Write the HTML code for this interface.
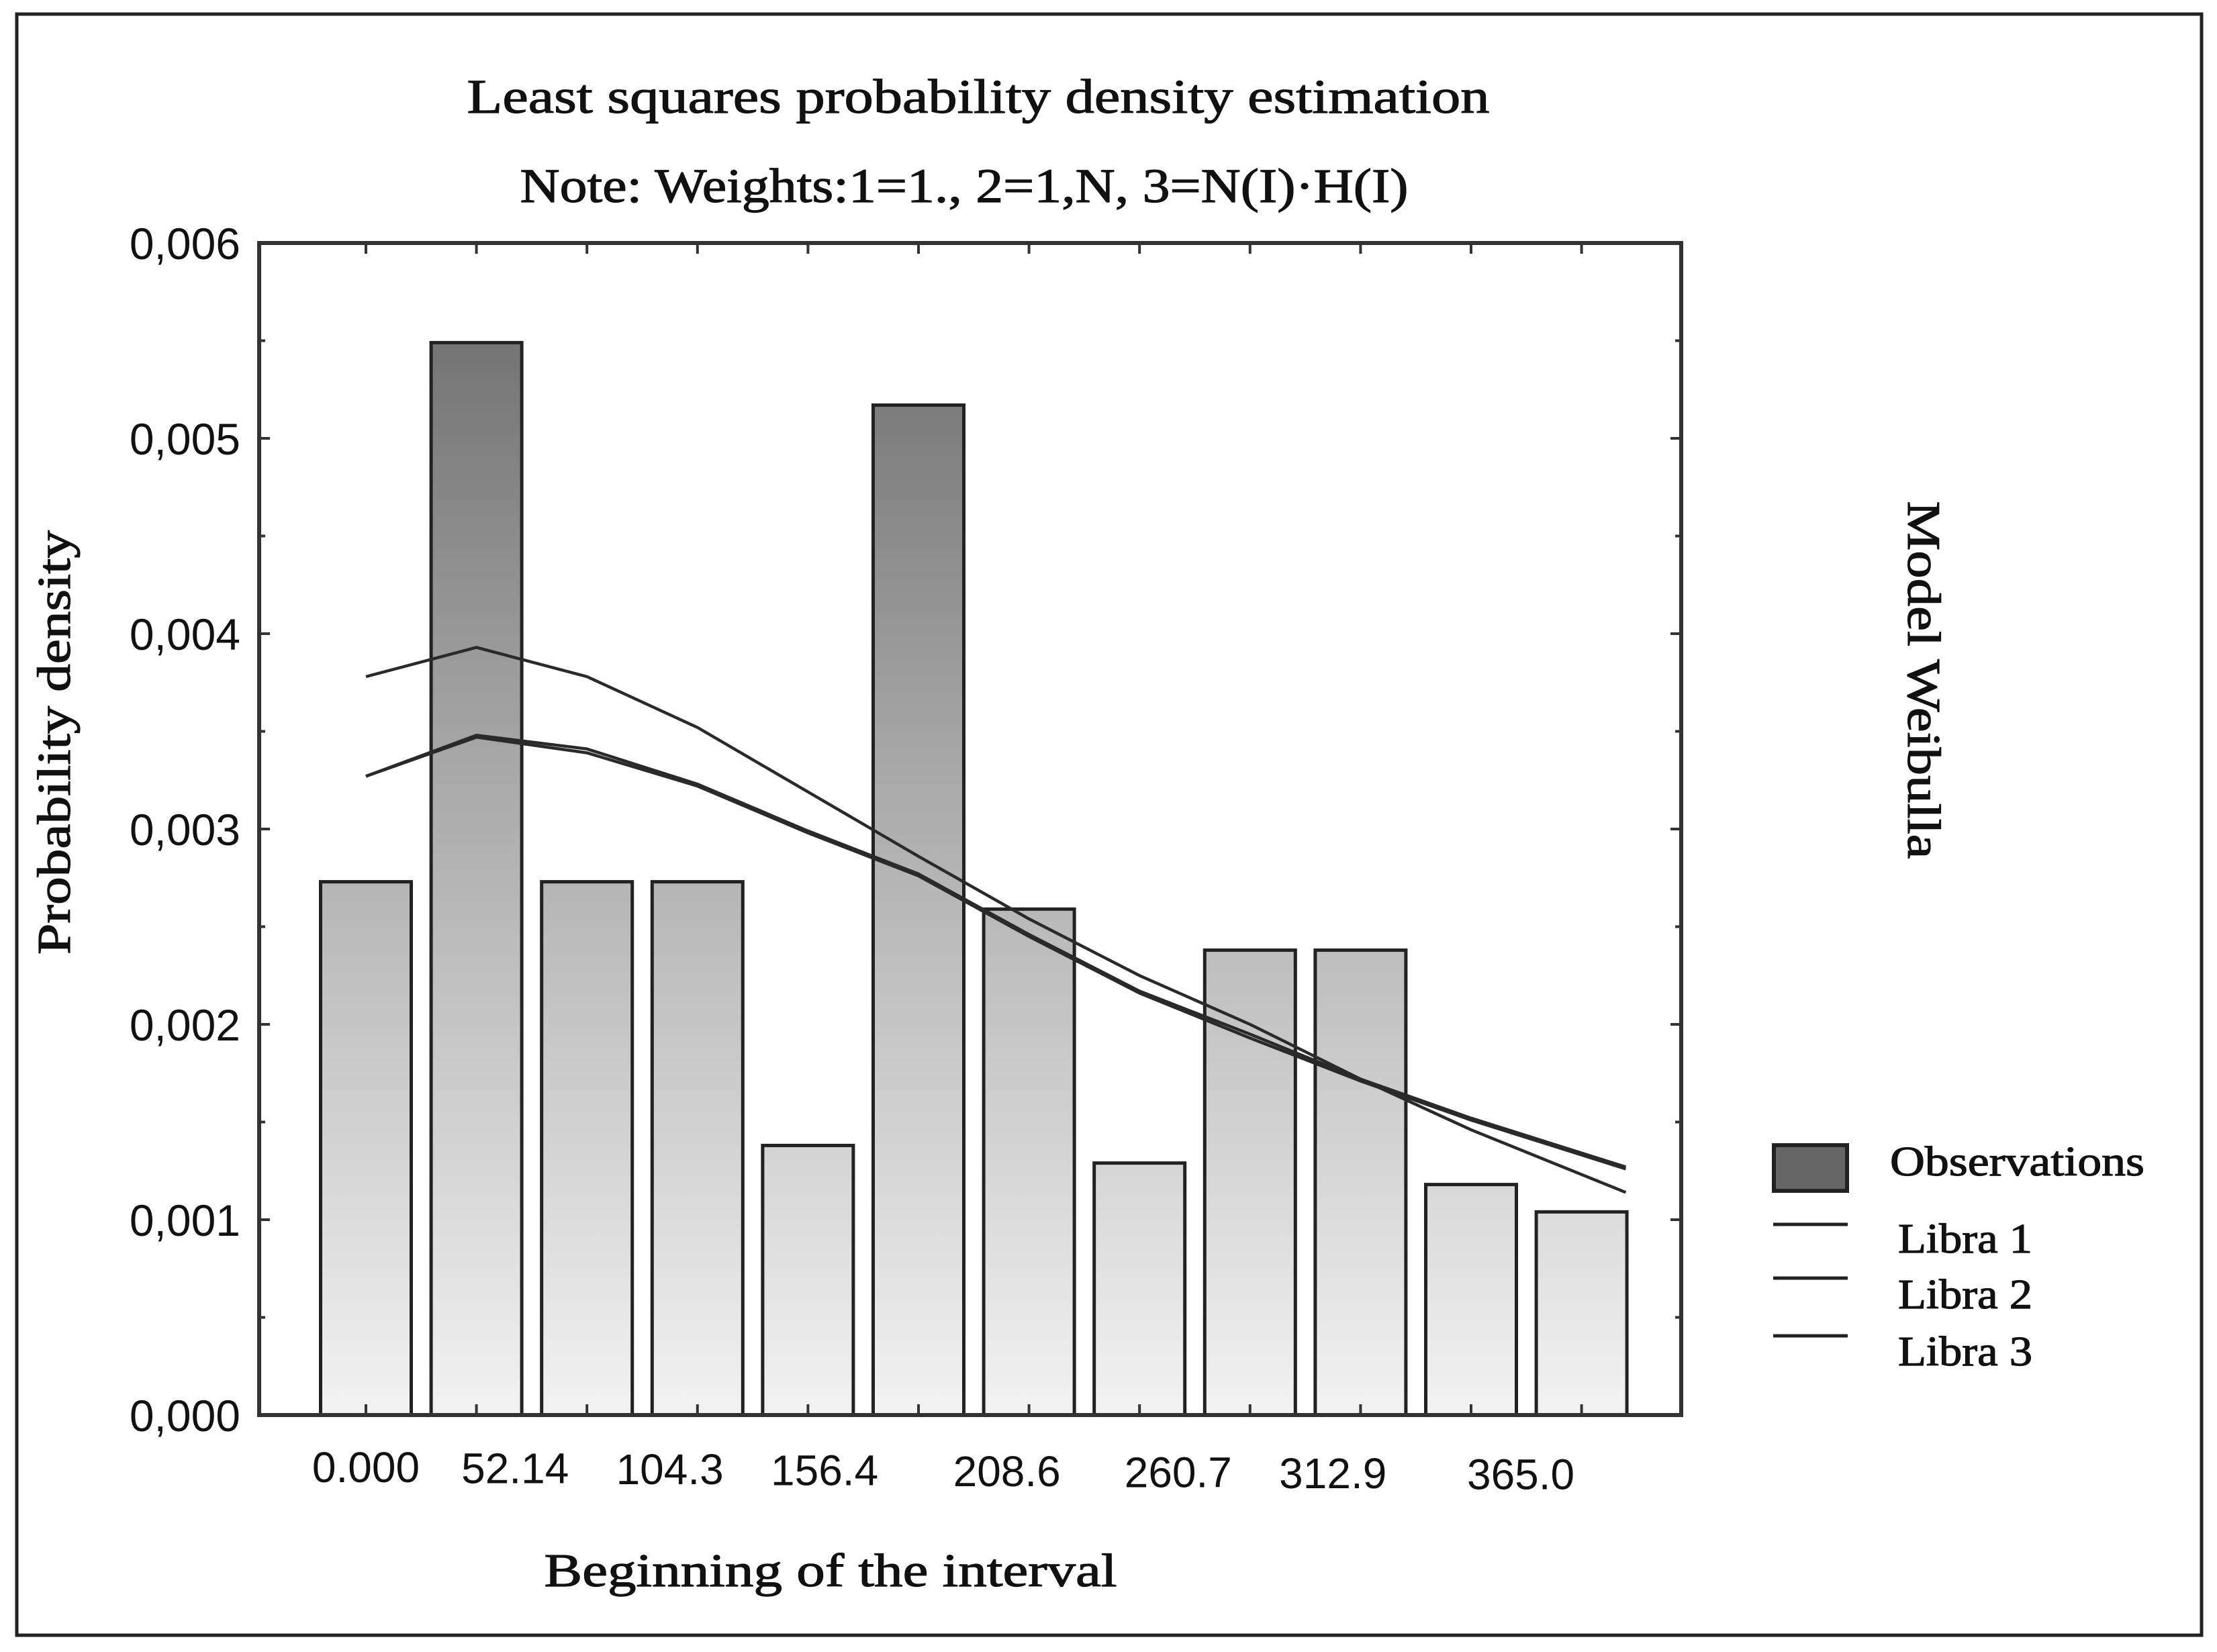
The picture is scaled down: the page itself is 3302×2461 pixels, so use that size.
<!DOCTYPE html>
<html><head><meta charset="utf-8"><style>
html,body{margin:0;padding:0;background:#fff;}
svg{display:block;}
.st{stroke:#111;stroke-width:1.2;}
</style></head><body>
<svg id="chart" xmlns="http://www.w3.org/2000/svg" width="3302" height="2461" viewBox="0 0 3302 2461">
<defs>
<linearGradient id="barGrad" gradientUnits="userSpaceOnUse" x1="0" y1="362" x2="0" y2="2108">
<stop offset="0" stop-color="#686868"/><stop offset="0.45" stop-color="#a8a8a8"/><stop offset="1" stop-color="#f2f2f2"/>
</linearGradient>
</defs>
<rect x="0" y="0" width="3302" height="2461" fill="#fff"/>
<rect x="25" y="21" width="3254" height="2415" fill="none" stroke="#222" stroke-width="5"/>
<text class="st" x="1457" y="168" text-anchor="middle" textLength="1523" lengthAdjust="spacingAndGlyphs" font-family="Liberation Serif, serif" font-size="72" fill="#111">Least squares probability density estimation</text>
<text class="st" x="1436" y="301" text-anchor="middle" textLength="1323" lengthAdjust="spacingAndGlyphs" font-family="Liberation Serif, serif" font-size="72" fill="#111">Note: Weights:1=1., 2=1,N, 3=N(I)·H(I)</text>
<rect x="386" y="362" width="2118" height="1746" fill="#fff"/>
<g id="bars"></g>
<g id="lines"></g>
<rect x="386" y="362" width="2118" height="1746" fill="none" stroke="#333" stroke-width="6"/>
<g id="axes"></g>
<text class="st" transform="translate(104,1106) rotate(-90)" text-anchor="middle" textLength="632" lengthAdjust="spacingAndGlyphs" font-family="Liberation Serif, serif" font-size="70" fill="#111">Probability density</text>
<text class="st" x="1237" y="2363" text-anchor="middle" textLength="853" lengthAdjust="spacingAndGlyphs" font-family="Liberation Serif, serif" font-size="70" fill="#111">Beginning of the interval</text>
<text class="st" transform="translate(2842,1013) rotate(90)" text-anchor="middle" textLength="533" lengthAdjust="spacingAndGlyphs" font-family="Liberation Serif, serif" font-size="70" fill="#111">Model Weibulla</text>
<g>
<rect x="2642" y="1706" width="109" height="68" fill="#666" stroke="#222" stroke-width="6"/>
<text class="st" x="2815" y="1751" textLength="379" lengthAdjust="spacingAndGlyphs" font-family="Liberation Serif, serif" font-size="62" fill="#111">Observations</text>
<line x1="2641" y1="1824" x2="2752" y2="1824" stroke="#222" stroke-width="5"/>
<text class="st" x="2827" y="1866" textLength="200" lengthAdjust="spacingAndGlyphs" font-family="Liberation Serif, serif" font-size="62" fill="#111">Libra 1</text>
<line x1="2641" y1="1904" x2="2752" y2="1904" stroke="#222" stroke-width="5"/>
<text class="st" x="2827" y="1949" textLength="200" lengthAdjust="spacingAndGlyphs" font-family="Liberation Serif, serif" font-size="62" fill="#111">Libra 2</text>
<line x1="2641" y1="1990" x2="2752" y2="1990" stroke="#222" stroke-width="5"/>
<text class="st" x="2827" y="2034" textLength="200" lengthAdjust="spacingAndGlyphs" font-family="Liberation Serif, serif" font-size="62" fill="#111">Libra 3</text>
</g>
</svg>
<script>
const observations = [0.00273, 0.00549, 0.00273, 0.00273, 0.00138, 0.00517, 0.00259, 0.00129, 0.00238, 0.00238, 0.00118, 0.00104];
const linePointIndex = [0, 1, 2, 3, 4, 5, 6, 7, 8, 9, 10, 11.4];
const libra1 = [0.00378, 0.00393, 0.00378, 0.00352, 0.00319, 0.00286, 0.00254, 0.00225, 0.00200, 0.00172, 0.00146, 0.00114];
const libra2 = [0.00327, 0.00348, 0.00341, 0.00323, 0.00299, 0.00277, 0.00246, 0.00217, 0.00195, 0.00172, 0.00152, 0.00127];
const libra3 = [0.00327, 0.00347, 0.00339, 0.00322, 0.00298, 0.00276, 0.00245, 0.00216, 0.00193, 0.00171, 0.00151, 0.00126];
const yTickLabels = ["0,000", "0,001", "0,002", "0,003", "0,004", "0,005", "0,006"];
const yTickValues = [0, 0.001, 0.002, 0.003, 0.004, 0.005, 0.006];
const xTickLabels = ["0.000", "52.14", "104.3", "156.4", "208.6", "260.7", "312.9", "365.0"];
const xLabelPositions = [0, 1.35, 2.75, 4.15, 5.8, 7.35, 8.75, 10.45];

const NS = "http://www.w3.org/2000/svg";
const y = v => 2108 - v / 0.006 * 1746;
const x = i => 545 + i * 164.6;
const barW = 135;
function mk(tag, attrs, parent) {
  const e = document.createElementNS(NS, tag);
  for (const k in attrs) e.setAttribute(k, attrs[k]);
  parent.appendChild(e);
  return e;
}
const bars = document.getElementById('bars');
observations.forEach((v, i) => {
  const r = mk('rect', {x: x(i) - barW / 2, y: y(v), width: barW, height: y(0) - y(v), fill: 'url(#barGrad)', stroke: '#222', 'stroke-width': 5}, bars);
  
  
});
const lines = document.getElementById('lines');
[libra1, libra2, libra3].forEach((s, k) => {
  const d = s.map((v, i) => (i ? 'L' : 'M') + x(linePointIndex[i]).toFixed(1) + ',' + y(v).toFixed(1)).join(' ');
  const p = mk('path', {d: d, fill: 'none', stroke: '#2a2a2a', 'stroke-width': 4.5}, lines);
  
  
});
const axes = document.getElementById('axes');
yTickValues.forEach((v, i) => {
  const t = mk('text', {x: 358, y: y(v) + 24, 'text-anchor': 'end', 'font-family': 'Liberation Sans, sans-serif', 'font-size': 66, fill: '#111'}, axes);
  t.textContent = yTickLabels[i];
  
  
});
for (let v = 0; v <= 0.006001; v += 0.0005) {
  const len = Math.abs(v / 0.001 - Math.round(v / 0.001)) < 1e-6 ? 16 : 9;
  const a = mk('line', {x1: 386, x2: 386 + len, y1: y(v), y2: y(v), stroke: '#333', 'stroke-width': 4}, axes);
  
  
  const b = mk('line', {x1: 2504, x2: 2504 - len, y1: y(v), y2: y(v), stroke: '#333', 'stroke-width': 4}, axes);
  
  
}
observations.forEach((v, i) => {
  const a = mk('line', {x1: x(i), x2: x(i), y1: 2108, y2: 2092, stroke: '#333', 'stroke-width': 4}, axes);
  
  
  const b = mk('line', {x1: x(i), x2: x(i), y1: 362, y2: 378, stroke: '#333', 'stroke-width': 4}, axes);
  
  
});
xTickLabels.forEach((s, i) => {
  const t = mk('text', {x: x(xLabelPositions[i]), y: 2208 + i * 1.5, 'text-anchor': 'middle', 'font-family': 'Liberation Sans, sans-serif', 'font-size': 64, fill: '#111'}, axes);
  t.textContent = s;
  
  
});
</script>
</body></html>
